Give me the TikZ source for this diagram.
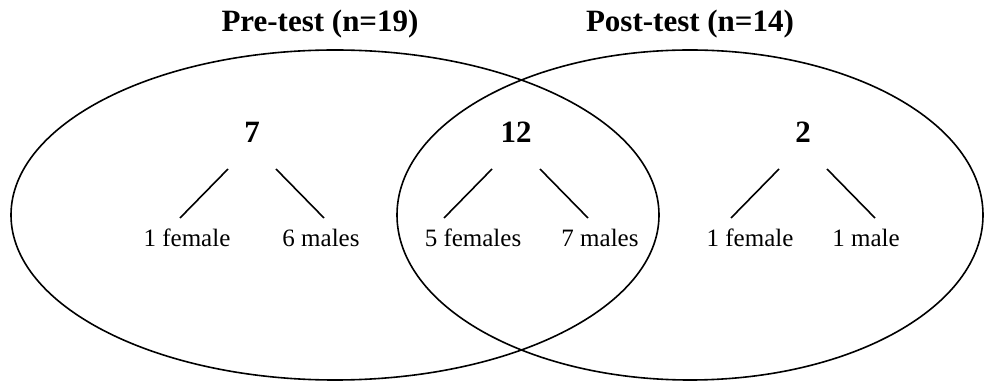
\documentclass[tikz,border=0pt]{standalone}
\usepackage{fontspec}
\setmainfont{Liberation Serif}
\tikzset{
  title/.style={font=\fontsize{31}{36}\selectfont\bfseries, inner sep=0pt, anchor=base},
  count/.style={font=\fontsize{31}{36}\selectfont\bfseries, inner sep=0pt, anchor=base},
  group/.style={font=\fontsize{25}{30}\selectfont, inner sep=0pt, anchor=base}
}
\begin{document}
\begin{tikzpicture}[x=1pt, y=1pt, line width=1.6pt]
        \useasboundingbox (0,0) rectangle (986,383);
        \draw (335,168) ellipse (324 and 165);   % pre-test set
        \draw (690,168) ellipse (293 and 165);   % post-test set
        \node[title] (pre) at (320,351) {Pre-test (n=19)};
        \node[title] (post) at (690,351) {Post-test (n=14)};
        \foreach \x/\num/\xl/\lft/\xr/\rgt/\nm in
            {252/7/187/1 female/321/6 males/a,
             516/12/473/5 females/600/7 males/b,
             803/2/750/1 female/866/1 male/c}
        {
            \node[count] (\nm) at (\x,240) {\num};
            \node[group] (\nm l) at (\xl,136) {\lft};
            \node[group] (\nm r) at (\xr,136) {\rgt};
            \draw ([xshift=-24pt, yshift=-26pt]\nm.base)
                -- ([xshift={\x-72-\xl}, yshift=29pt]\nm l.base);
            \draw ([xshift=24pt, yshift=-26pt]\nm.base)
                -- ([xshift={\x+72-\xr}, yshift=29pt]\nm r.base);
        }
    \end{tikzpicture}
\end{document}
